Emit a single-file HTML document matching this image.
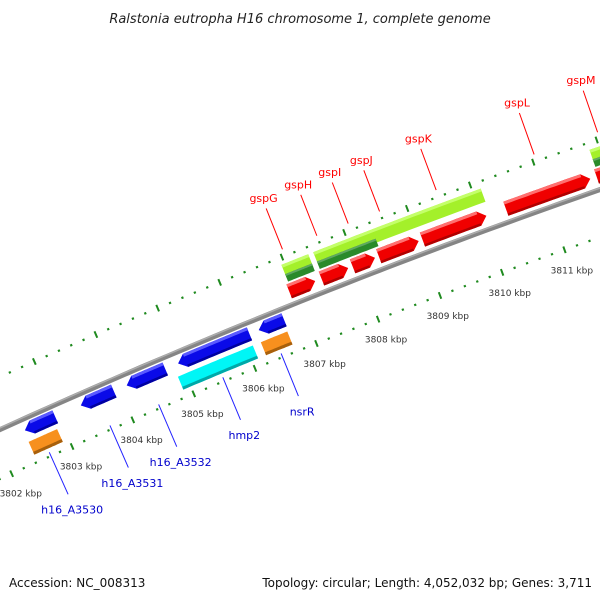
<!DOCTYPE html>
<html><head><meta charset="utf-8"><style>
html,body{margin:0;padding:0;background:#fff}
svg{display:block}
text{font-family:"DejaVu Sans","Liberation Sans",sans-serif}
</style></head><body>
<svg id="map" width="600" height="600" viewBox="0 0 600 600" xmlns="http://www.w3.org/2000/svg">
<text x="300" y="23" text-anchor="middle" font-size="13" font-style="italic" fill="#222">Ralstonia eutropha H16 chromosome 1, complete genome</text>
<g id="layer"></g>
<text x="9" y="587" font-size="12" fill="#111">Accession: NC_008313</text>
<text x="592" y="587" text-anchor="end" font-size="12" fill="#111">Topology: circular; Length: 4,052,032 bp; Genes: 3,711</text>
</svg>
<script>
// feature data (kbp)
const redStarts = [3801.6, 3806.91, 3807.43, 3807.93, 3808.35, 3809.05, 3810.38, 3811.82];
const redEnds   = [3802.2, 3807.33, 3807.86, 3808.29, 3808.99, 3810.07, 3811.72, 3812.6];
const greenStarts = [3806.95, 3807.46, 3811.85];
const greenEnds   = [3807.38, 3810.13, 3812.6];
const darkStarts = [3806.95, 3807.46, 3811.85];
const darkEnds   = [3807.38, 3808.4, 3812.6];
const blueStarts = [3802.45, 3803.37, 3804.12, 3804.96, 3806.27];
const blueEnds   = [3802.95, 3803.91, 3804.75, 3806.12, 3806.68];
const orangeStarts = [3802.43, 3806.23];
const orangeEnds   = [3802.9, 3806.66];
const cyanStarts = [3804.88];
const cyanEnds   = [3806.1];
const topLabels = ["gspG","gspH","gspI","gspJ","gspK","gspL","gspM"];
const topLabelKb = [3807.05, 3807.6, 3808.1, 3808.6, 3809.5, 3811.05, 3812.05];
const botLabels = ["h16_A3530","h16_A3531","h16_A3532","hmp2","nsrR"];
const botLabelKb = [3802.65, 3803.65, 3804.45, 3805.5, 3806.45];
const kbpTicks = [3802,3803,3804,3805,3806,3807,3808,3809,3810,3811,3812];

const CX=2908, CY=6831, K0=3803, A0=-113.95, DPK=0.5437;
function ang(kb){return (A0+(kb-K0)*DPK)*Math.PI/180;}
function pt(kb,r){const a=ang(kb);return [CX+r*Math.cos(a),CY+r*Math.sin(a)];}
const NS="http://www.w3.org/2000/svg";
const layer=document.getElementById('layer');
function mk(tag,attrs){const e=document.createElementNS(NS,tag);for(const k in attrs)e.setAttribute(k,attrs[k]);layer.appendChild(e);return e;}
function band(s,e,r0,r1){const p=[];const n=20;for(let i=0;i<=n;i++)p.push(pt(s+(e-s)*i/n,r1));for(let i=n;i>=0;i--)p.push(pt(s+(e-s)*i/n,r0));return p.map(q=>q[0].toFixed(1)+','+q[1].toFixed(1)).join(' ');}
function arrow(s,e,r0,r1,dir){const h=0.12;const p=[];const n=16;const rm=(r0+r1)/2;
 if(dir>0){const b=e-h;for(let i=0;i<=n;i++)p.push(pt(s+(b-s)*i/n,r1));p.push(pt(e,rm));for(let i=n;i>=0;i--)p.push(pt(s+(b-s)*i/n,r0));}
 else{const b=s+h;p.push(pt(s,rm));for(let i=0;i<=n;i++)p.push(pt(b+(e-b)*i/n,r1));for(let i=n;i>=0;i--)p.push(pt(b+(e-b)*i/n,r0));}
 return p.map(q=>q[0].toFixed(1)+','+q[1].toFixed(1)).join(' ');}
function arcPath(s,e,r){const n=60;let d='';for(let i=0;i<=n;i++){const q=pt(s+(e-s)*i/n,r);d+=(i?'L':'M')+q[0].toFixed(1)+' '+q[1].toFixed(1);}return d;}

// backbone
let bb=mk('path',{d:arcPath(3800,3814,7031),stroke:'#858585','stroke-width':5,fill:'none'});


let bbh=mk('path',{d:arcPath(3800,3814,7032.5),stroke:'#acacac','stroke-width':1.5,fill:'none'});



// tick rings
function ring(r,dirOut,name){
 for(let k=3800;k<=3814.001;k+=0.2){const kk=Math.round(k*10)/10;const major=Math.abs(kk-Math.round(kk))<0.01;
  const len=major?7:2.2;const a=pt(kk,r-len/2),b=pt(kk,r+len/2);
  const t=mk('line',{x1:a[0],y1:a[1],x2:b[0],y2:b[1],stroke:'#1f8a1f','stroke-width':major?2:2.2});
  
  }
}
ring(7079,1,'outer-tick');
ring(6986,-1,'inner-tick');
kbpTicks.forEach(k=>{const q=pt(k,6964);const t=mk('text',{x:q[0],y:q[1]+3,'font-size':9,'text-anchor':'middle',fill:'#333'});t.textContent=k+' kbp';
 
 });

function shaded(pts,fill,name){const p=mk('polygon',{points:pts,fill:fill});return p;}
// green features
greenStarts.forEach((s,i)=>{shaded(band(s,greenEnds[i],7058,7072),'#a4f02a','green-feature');
 const h=mk('polygon',{points:band(s,greenEnds[i],7069,7072),fill:'#c4ff6a'});});
darkStarts.forEach((s,i)=>{shaded(band(s,darkEnds[i],7054,7062),'#2a8a2a','dark-green-feature');
 const h=mk('polygon',{points:band(s,darkEnds[i],7060,7062),fill:'#60a860'});});
// red arrows
redStarts.forEach((s,i)=>{shaded(arrow(s,redEnds[i],7037,7052,1),'#f00000','red-gene-arrow');
 const h=mk('polygon',{points:band(s,redEnds[i]-0.12,7049,7052),fill:'#ff7070'});
 const d=mk('polygon',{points:band(s,redEnds[i]-0.12,7037,7039.5),fill:'#b00000'});});
// blue arrows
blueStarts.forEach((s,i)=>{shaded(arrow(s,blueEnds[i],7013,7027,-1),'#0a0ae8','blue-gene-arrow');
 const h=mk('polygon',{points:band(s+0.12,blueEnds[i],7024,7027),fill:'#5a5aff'});
 const d=mk('polygon',{points:band(s+0.12,blueEnds[i],7013,7015.5),fill:'#0000a0'});});
orangeStarts.forEach((s,i)=>{shaded(band(s,orangeEnds[i],6994,7008),'#f7901e','orange-feature');
 const d=mk('polygon',{points:band(s,orangeEnds[i],6994,6997),fill:'#a8600c'});});
cyanStarts.forEach((s,i)=>{shaded(band(s,cyanEnds[i],6994,7008),'#00f6f6','cyan-feature');
 const d=mk('polygon',{points:band(s,cyanEnds[i],6994,6997),fill:'#00a8a8'});});

// labels
topLabels.forEach((l,i)=>{const k=topLabelKb[i];const a=pt(k,7086),b=pt(k,7130),c=pt(k,7137);
 const ln=mk('line',{x1:a[0],y1:a[1],x2:b[0],y2:b[1],stroke:'#f00','stroke-width':1});
 
 
 const t=mk('text',{x:c[0],y:c[1],'font-size':11,'text-anchor':'middle',fill:'#f00'});t.textContent=l;
 
 });
botLabels.forEach((l,i)=>{const k=botLabelKb[i];const a=pt(k,6990),b=pt(k,6944),c=pt(k,6934);
 const ln=mk('line',{x1:a[0],y1:a[1],x2:b[0],y2:b[1],stroke:'#22f','stroke-width':1});
 
 
 const t=mk('text',{x:c[0],y:c[1]+10,'font-size':11,'text-anchor':'middle',fill:'#00c'});t.textContent=l;
 
 });
</script>
</body></html>
